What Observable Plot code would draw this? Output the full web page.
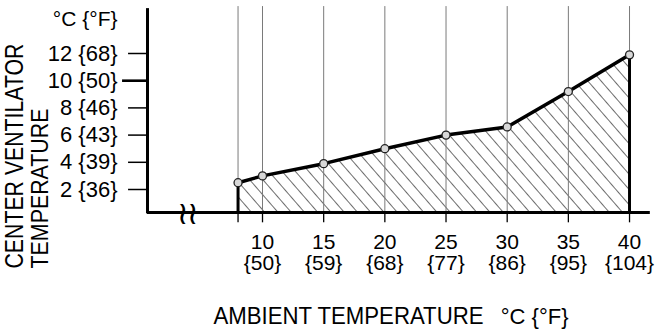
<!DOCTYPE html>
<html><head><meta charset="utf-8">
<script src="https://cdn.jsdelivr.net/npm/d3@7"></script>
<script src="https://cdn.jsdelivr.net/npm/@observablehq/plot@0.6"></script>
<style>body{margin:0;background:#fff} svg{display:block}</style>
</head><body><div id="chart"></div>
<script>
// ---- data ----
const ambientC = [8, 10, 15, 20, 25, 30, 35, 40];
const ventC = [2.5, 3.0, 3.9, 5.0, 6.0, 6.6, 9.2, 11.9];
const gridX = [8, 10, 15, 20, 25, 30, 35, 40];
const xTicksC = [10, 15, 20, 25, 30, 35, 40];
const xTicksF = [50, 59, 68, 77, 86, 95, 104];
const yTicksC = [2, 4, 6, 8, 10, 12];
const yTicksF = [36, 39, 43, 46, 50, 68];
const unitLabel = "°C {°F}";
const xTitle = "AMBIENT TEMPERATURE";
const yTitleLine1 = "CENTER VENTILATOR";
const yTitleLine2 = "TEMPERATURE";
const breakMark = "≀≀";
// axis extents, in data units
const xAxisStart = 0.6, xAxisEnd = 41.7;
const yBase = 0.31, yAxisTop = 15.3, gridTop = 15.45, tickBottom = -0.45;
const yTickStart = -0.95, yTickLongStart = -1.44;
const breakAt = 3.8;

const data = ambientC.map((a, i) => ({a, v: ventC[i]}));
const font = "'Liberation Sans', Arial, Helvetica, sans-serif";

const svg = Plot.plot({
  width: 658, height: 330,
  marginTop: 0, marginRight: 0, marginBottom: 0, marginLeft: 0,
  style: {fontFamily: font, background: "#fff", color: "#000"},
  x: {domain: [0, 45], range: [139.67, 690.2], axis: null},
  y: {domain: [0, 16], range: [216.2, -1.4], axis: null},
  marks: [
    Plot.areaY(data, {x: "a", y1: yBase, y2: "v", fill: "url(#hatch)"}),
    Plot.ruleX(gridX, {x: d => d, y1: yBase, y2: gridTop, stroke: "#7a7a7a", strokeWidth: 1}),
    Plot.ruleX(gridX, {x: d => d, y1: tickBottom, y2: yBase, stroke: "#000", strokeWidth: 1.3}),
    Plot.ruleY([yBase], {x1: xAxisStart, x2: xAxisEnd, stroke: "#000", strokeWidth: 3}),
    Plot.ruleX([xAxisStart], {y1: yBase - 0.1, y2: yAxisTop, stroke: "#000", strokeWidth: 3}),
    Plot.ruleY(yTicksC, {y: d => d, x1: d => d === 10 ? yTickLongStart : yTickStart, x2: xAxisStart,
      stroke: "#000", strokeWidth: d => d === 10 ? 2.6 : 1.5}),
    Plot.ruleX([data[0], data[data.length - 1]], {x: "a", y1: yBase, y2: "v", stroke: "#000", strokeWidth: 3}),
    Plot.line(data, {x: "a", y: "v", stroke: "#000", strokeWidth: 3.5, strokeLinejoin: "round"}),
    Plot.dot(data, {x: "a", y: "v", r: 4, fill: "#d8d8d8", stroke: "#222", strokeWidth: 1.3}),
    Plot.text([breakAt], {x: d => d, y: yBase, text: () => breakMark, fontSize: 32, fontFamily: "DejaVu Sans",
      fill: "#000", dy: 1}),
    // y tick labels
    Plot.text(yTicksC, {x: xAxisStart, y: d => d, text: (d, i) => `${d} {${yTicksF[i]}}`,
      textAnchor: "end", dx: -30, fontSize: 22, fill: "#000"}),
    // x tick labels
    Plot.text(xTicksC, {x: d => d, y: yBase, text: (d, i) => `${d}\n{${xTicksF[i]}}`,
      lineAnchor: "bottom", lineHeight: 1.0, dy: 58, fontSize: 21, fill: "#000"}),
    // unit label on top of y axis
    Plot.text([unitLabel], {frameAnchor: "top-left", text: d => d, textAnchor: "end", lineAnchor: "bottom",
      dx: 117, dy: 25, fontSize: 21, fill: "#000"}),
    // x title
    Plot.text([xTitle], {frameAnchor: "top-left", text: d => d, textAnchor: "start", lineAnchor: "bottom",
      dx: 213, dy: 323, fontSize: 23, fill: "#000"}),
    Plot.text([unitLabel], {frameAnchor: "top-left", text: d => d, textAnchor: "end", lineAnchor: "bottom",
      dx: 568, dy: 323, fontSize: 22, fill: "#000"}),
    // y title (two lines)
    Plot.text([yTitleLine1], {frameAnchor: "top-left", text: d => d, textAnchor: "start", lineAnchor: "bottom",
      rotate: -90, dx: 22, dy: 268, fontSize: 25, fill: "#000"}),
    Plot.text([yTitleLine2], {frameAnchor: "top-left", text: d => d, textAnchor: "start", lineAnchor: "bottom",
      rotate: -90, dx: 47, dy: 268, fontSize: 24, fill: "#000"})
  ]
});

// fit the condensed title lettering of the original
const fitWidths = new Map([[xTitle, 270], [yTitleLine1, 225], [yTitleLine2, 160]]);
svg.querySelectorAll("text").forEach(t => {
  const s = t.textContent;
  let w = fitWidths.get(s);
  if (s === unitLabel && +t.getAttribute("font-size") === 22) w = 62;
  if (w) { t.setAttribute("textLength", w); t.setAttribute("lengthAdjust", "spacingAndGlyphs"); }
  if (s === breakMark) t.style.letterSpacing = "-2px";
});

const defs = d3.select(svg).insert("defs", ":first-child");
const pat = defs.append("pattern").attr("id", "hatch").attr("patternUnits", "userSpaceOnUse")
  .attr("width", 10).attr("height", 10).attr("patternTransform", "rotate(-41)");
pat.append("line").attr("x1", 0).attr("y1", -1).attr("x2", 0).attr("y2", 11)
  .attr("stroke", "#000").attr("stroke-width", 1.15);

document.getElementById("chart").appendChild(svg);
</script></body></html>
